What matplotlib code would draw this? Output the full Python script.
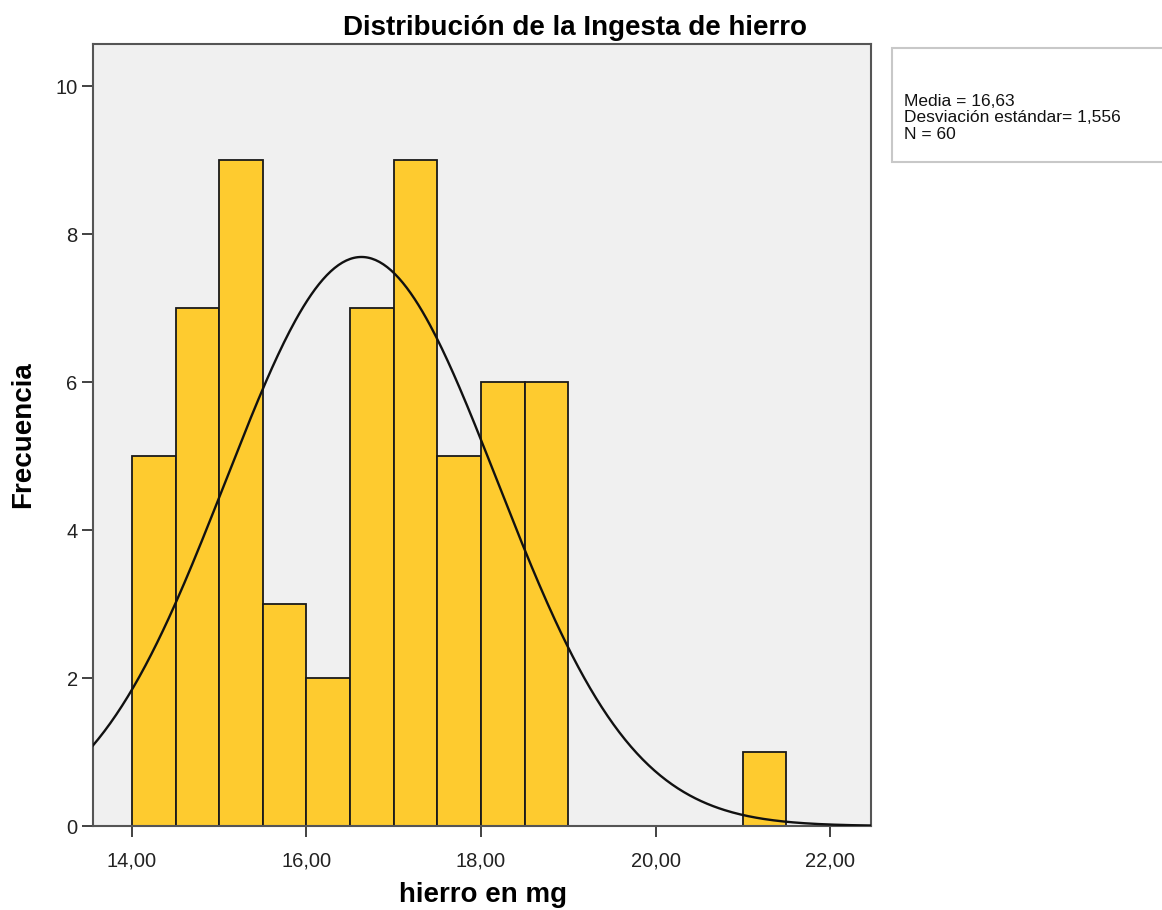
import numpy as np
import matplotlib.pyplot as plt

plt.rcParams['font.family'] = ['Liberation Sans', 'DejaVu Sans']

# histogram bins (hierro en mg) and counts
bin_edges = [14.0, 14.5, 15.0, 15.5, 16.0, 16.5, 17.0, 17.5, 18.0, 18.5, 19.0,
             19.5, 20.0, 20.5, 21.0, 21.5]
counts = [5, 7, 9, 3, 2, 7, 9, 5, 6, 6, 0, 0, 0, 0, 1]
media = 16.63
desv = 1.556
n = 60

fig = plt.figure(figsize=(11.62, 9.10), dpi=100)
ax = fig.add_axes([0.080, 0.0923, 0.6696, 0.8593])
ax.set_facecolor('#f0f0f0')

left = np.array(bin_edges[:-1])
width = np.diff(bin_edges)
ax.bar(left, counts, width=width, align='edge', color='#fecb2f',
       edgecolor='#1a1a1a', linewidth=1.3, zorder=2)

# normal curve
xs = np.linspace(13.55, 22.47, 400)
bw = 0.5
ys = n * bw / (desv * np.sqrt(2 * np.pi)) * np.exp(-0.5 * ((xs - media) / desv) ** 2)
ax.plot(xs, ys, color='#111111', linewidth=1.7, zorder=3)

ax.set_xlim(13.553, 22.47)
ax.set_ylim(0, 10.57)
ax.set_xticks([14, 16, 18, 20, 22])
ax.set_xticklabels(['14,00', '16,00', '18,00', '20,00', '22,00'])
ax.set_yticks([0, 2, 4, 6, 8, 10])
ax.tick_params(axis='both', direction='out', length=8, width=1.3,
               labelsize=14.5, colors='#333333', labelcolor='#222222')
ax.tick_params(axis='x', pad=10)
ax.tick_params(axis='y', pad=3)
for s in ax.spines.values():
    s.set_color('#555555')
    s.set_linewidth(1.5)

# axis labels and title placed in figure coords
fig.text(483 / 1162, 1 - 895 / 910, 'hierro en mg', fontsize=20,
         fontweight='bold', ha='center', va='center')
fig.text(23 / 1162, 1 - 435 / 910, 'Frecuencia', fontsize=20,
         fontweight='bold', ha='center', va='center', rotation=90)
fig.text(0.495, 1 - 28 / 910, 'Distribución de la Ingesta de hierro',
         fontsize=20, fontweight='bold', ha='center', va='center')

# stats box
box = plt.Rectangle((892 / 1162, 1 - 162 / 910), 0.25, 114 / 910,
                    transform=fig.transFigure, facecolor='white',
                    edgecolor='#c8c8c8', linewidth=1.5)
fig.patches.append(box)
fig.text(904 / 1162, 1 - 118 / 910,
         'Media = 16,63\nDesviación estándar= 1,556\nN = 60',
         fontsize=12.5, va='center', ha='left', linespacing=1.1,
         color='#111111')

fig.savefig('out.png', dpi=100)
